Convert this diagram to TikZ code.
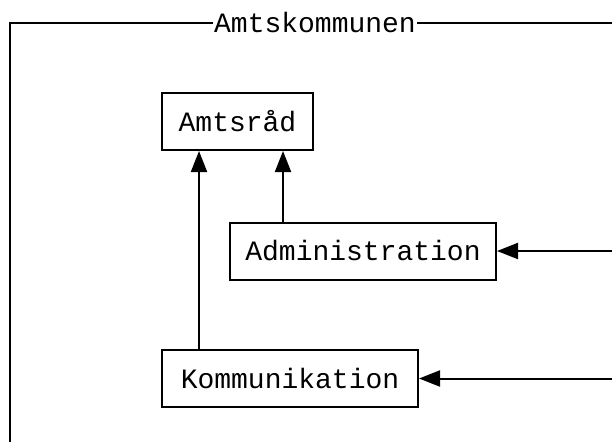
\documentclass[tikz,border=0pt]{standalone}
\usepackage{fontspec}
\setmonofont{Liberation Mono}
\usetikzlibrary{positioning,arrows.meta}

\begin{document}
\begin{tikzpicture}[x=1pt, y=-1pt,
  unit/.style={draw, line width=2pt, minimum height=57pt, inner sep=0pt,
    font=\ttfamily\fontsize{28}{30}\selectfont},
  link/.style={line width=2pt, -{Triangle[length=21pt,width=16pt]}},
  frameline/.style={line width=2pt}
]
\useasboundingbox (0,0) rectangle (612,442);

% the frame round the county
\node[font=\ttfamily\fontsize{28}{30}\selectfont, anchor=base, inner xsep=1pt] (title) at (315,32) {Amtskommunen};
\coordinate (top) at (10,23);
\coordinate (bot) at (10,442);
\coordinate (rim) at (612,23);
\draw[frameline] (bot) -- (top) -- (title.west |- top);
\draw[frameline] (title.east |- top) -- (rim);

% the three bodies
\node[unit, minimum width=151pt] (ams) at (237.5,121.5) {Amtsråd};
\node[unit, minimum width=266pt] (adm) at (363,251) {Administration};
\node[unit, minimum width=256pt] (kom) at (290,378.5) {Kommunikation};

% connectors
\coordinate (colA) at (199,0);
\coordinate (colB) at (283,0);
\coordinate (inA) at (612,251);
\coordinate (inB) at (612,378.5);
\draw[link] (kom.north -| colA) -- (ams.south -| colA);
\draw[link] (adm.north -| colB) -- (ams.south -| colB);
\draw[link] (inA) -- (adm.east);
\draw[link] (inB) -- (kom.east);
\end{tikzpicture}
\end{document}
